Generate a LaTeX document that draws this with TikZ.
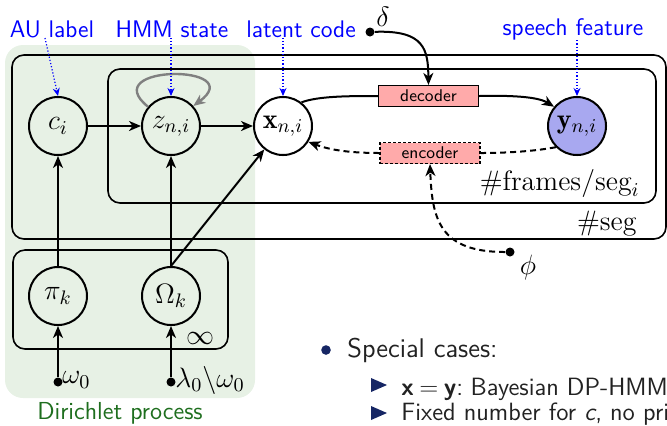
\RequirePackage{fix-cm}
\documentclass[tikz,border=0pt]{standalone}
\usepackage{amsmath}
\usepackage{fontspec}
\usetikzlibrary{arrows.meta}

\definecolor{dpgreen}{RGB}{231,241,229}
\definecolor{dptext}{RGB}{30,110,30}
\definecolor{netred}{RGB}{255,170,170}
\definecolor{obsblue}{RGB}{168,168,240}
\definecolor{navy}{RGB}{22,38,100}
\definecolor{bodytext}{RGB}{34,34,34}
\definecolor{loopgray}{RGB}{128,128,128}

\tikzset{
  var/.style={circle, draw, line width=1pt, minimum size=29pt, inner sep=0pt,
    font=\fontsize{14}{16}\selectfont},
  obsvar/.style={var, fill=obsblue},
  plate/.style={draw, line width=0.8pt, rounded corners=6pt},
  netbox/.style={draw, line width=0.6pt, fill=netred, minimum width=50pt, minimum height=10.5pt,
    inner sep=0pt, font=\sffamily\fontsize{8.5}{9}\selectfont},
  conn/.style={line width=1pt, -{Stealth[length=6pt,width=5pt,inset=1.8pt]}},
  dconn/.style={conn, dash pattern=on 3pt off 2pt},
  hyper/.style={circle, fill=black, inner sep=0pt, minimum size=4.5pt},
  tag/.style={text=blue, font=\sffamily\fontsize{12}{14}\selectfont, inner sep=0pt},
  tagarrow/.style={blue, line width=0.6pt, densely dotted, -{Stealth[length=4pt,width=3.5pt]}},
  platelabel/.style={font=\fontsize{14}{16}\selectfont, inner sep=0pt},
  mathlabel/.style={font=\fontsize{14}{16}\selectfont, inner sep=0pt},
  itemtext/.style={anchor=base west, inner sep=0pt, text=bodytext, font=\sffamily\fontsize{12.5}{15}\selectfont},
}

\begin{document}
\begin{tikzpicture}[x=0.5pt, y=-0.5pt]
  \path[use as bounding box, clip] (0,0) rectangle (667,425);

  % Dirichlet process region
  \fill[dpgreen, rounded corners=9pt] (5,45) rectangle (255,398);
  \node[text=dptext, font=\sffamily\fontsize{12.3}{14}\selectfont] (dplabel) at (120,413) {Dirichlet process};

  % plates
  \draw[plate] (12,55) rectangle (666,239);
  \draw[plate] (108,69) rectangle (656,203);
  \draw[plate] (13,250) rectangle (228,349);
  \node[platelabel, anchor=base east] (segtxt) at (637,230) {$\#\mathrm{seg}$};
  \node[platelabel, anchor=base east] (frtxt) at (640,190) {$\#\mathrm{frames}/\mathrm{seg}_i$};
  \node[platelabel] (inftxt) at (200,338) {$\infty$};

  % random variables
  \node[var] (c) at (58,126) {$c_i$};
  \node[var] (z) at (171,126) {$z_{n,i}$};
  \node[var, fill=white] (x) at (283,126) {$\mathbf{x}_{n,i}$};
  \node[obsvar] (y) at (577,126) {$\mathbf{y}_{n,i}$};
  \node[var] (pi) at (58,296) {$\pi_k$};
  \node[var] (om) at (171,296) {$\Omega_k$};

  % hyperparameters
  \node[hyper] (w0) at (58,382) {};
  \node[hyper] (l0) at (171,382) {};
  \node[mathlabel, anchor=west] (w0txt) at (62,380) {$\omega_0$};
  \node[mathlabel, anchor=west] (l0txt) at (175,380) {$\lambda_0\backslash\omega_0$};
  \node[hyper] (delta) at (370,32) {};
  \node[mathlabel] (deltatxt) at (383,17) {$\delta$};
  \node[hyper] (phi) at (510,252) {};
  \node[mathlabel] (phitxt) at (528,267) {$\phi$};

  % neural networks
  \node[netbox] (dec) at (428.5,96) {decoder};
  \node[netbox, dash pattern=on 1.5pt off 1pt] (enc) at (430,153) {encoder};

  % generative arrows
  \draw[conn] (c) -- (z);
  \draw[conn] (z) -- (x);
  \draw[conn] (pi) -- (c);
  \draw[conn] (om) -- (z);
  \draw[conn] (om.north) -- (x);
  \draw[conn] (w0) -- (pi);
  \draw[conn] (l0) -- (om);
  \draw[loopgray, line width=1.2pt, -{Stealth[length=6pt,width=5pt,inset=1.8pt]}]
    (z.140) .. controls (95,64) and (250,64) .. (z.42);

  % decoder path
  \draw[line width=1pt] (x.52) .. controls (318,96) and (350,96) .. (dec.west);
  \draw[conn] (dec.east) .. controls (520,95) and (540,98) .. (y.140);
  \draw[conn] (delta) .. controls (425,30) and (428,50) .. (dec.north);

  % encoder path
  \draw[line width=1pt, dash pattern=on 3pt off 2pt] (y.225) .. controls (530,152) and (500,153) .. (enc.east);
  \draw[dconn] (enc.west) .. controls (350,153) and (330,150) .. (x.-32);
  \draw[dconn] (phi) .. controls (440,252) and (432,220) .. (enc.south);

  % annotations
  \node[tag] (tau) at (52,29) {AU label};
  \node[tag] (thmm) at (172,29) {HMM state};
  \node[tag] (tlat) at (301,29) {latent code};
  \node[tag] (tsp) at (573,29) {speech feature};
  \draw[tagarrow] (45,38) -- (c.north);
  \draw[tagarrow] (thmm.south -| z.north) -- (z.north);
  \draw[tagarrow] (tlat.south -| x.north) -- (x.north);
  \draw[tagarrow] (tsp.south -| y.north) -- (y.north);

  % text beside the model
  \fill[navy] (326,350) circle (2.4pt);
  \node[itemtext, font=\sffamily\fontsize{13.5}{16}\selectfont] (sc) at (347,357) {Special cases:};
  \fill[navy] (371,378) -- (387,385) -- (371,392) -- cycle;
  \node[itemtext] (case1) at (401,395) {\textbf{x}\hspace{0.22em}$=$\hspace{0.22em}\textbf{y}:\hspace{0.3em}Bayesian DP-HMM};
  \fill[navy] (371,406) -- (387,413) -- (371,420) -- cycle;
  \node[itemtext] (case2) at (401,420) {Fixed number for \textit{c}, no prior};
\end{tikzpicture}
\end{document}
